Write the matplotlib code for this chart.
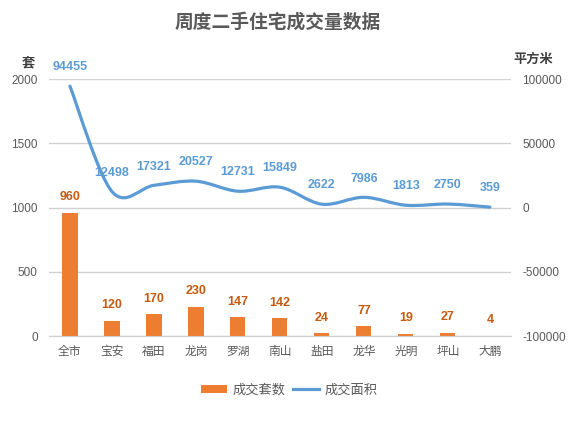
import numpy as np
import matplotlib
matplotlib.use('Agg')
import matplotlib.pyplot as plt
from matplotlib.path import Path
from matplotlib.patches import PathPatch, Patch
from matplotlib.lines import Line2D

plt.rcParams['font.family'] = ['Liberation Sans', 'Noto Sans CJK SC', 'DejaVu Sans']
plt.rcParams['axes.unicode_minus'] = False

# Data
districts = ['全市', '宝安', '福田', '龙岗', '罗湖', '南山', '盐田', '龙华', '光明', '坪山', '大鹏']
units = [960, 120, 170, 230, 147, 142, 24, 77, 19, 27, 4]
area = [94455, 12498, 17321, 20527, 12731, 15849, 2622, 7986, 1813, 2750, 359]

bar_color = '#ED7D31'
line_color = '#5B9BD5'
label_orange = '#C55A11'
grid_color = '#D0D0D0'
text_color = '#595959'

fig = plt.figure(figsize=(5.76, 4.32), dpi=100)
ax = fig.add_axes([0.085, 0.222, 0.802, 0.595])
ax2 = ax.twinx()

x = np.arange(len(districts))
ax.bar(x, units, width=0.36, color=bar_color, zorder=2)
for xi, v in zip(x, units):
    ax.annotate(str(v), (xi, v), xytext=(0, 11), textcoords='offset points',
                ha='center', va='center', fontsize=9, fontweight='bold', color=label_orange)

ax.set_ylim(0, 2000)
ax.set_yticks([0, 500, 1000, 1500, 2000])
ax.set_xlim(-0.5, len(districts) - 0.5)
ax.set_xticks(x)
ax.set_xticklabels(districts)
ax.grid(axis='y', color=grid_color, linewidth=1, zorder=0)
ax.set_axisbelow(True)
for s in ['top', 'left', 'right']:
    ax.spines[s].set_visible(False)
ax.spines['bottom'].set_color(grid_color)
ax.tick_params(axis='y', length=0, labelsize=8.5, colors=text_color, pad=8)
ax.tick_params(axis='x', length=0, labelsize=8.5, colors=text_color, pad=7)

# smoothed line (bezier through the data points, like a spreadsheet smooth line)
pts = np.column_stack([x, area]).astype(float)
verts = [tuple(pts[0])]
codes = [Path.MOVETO]
t = 1 / 6
for i in range(len(pts) - 1):
    p0 = pts[i - 1] if i > 0 else pts[i]
    p1 = pts[i]
    p2 = pts[i + 1]
    p3 = pts[i + 2] if i + 2 < len(pts) else pts[i + 1]
    c1 = p1 + (p2 - p0) * t
    c2 = p2 - (p3 - p1) * t
    verts += [tuple(c1), tuple(c2), tuple(p2)]
    codes += [Path.CURVE4, Path.CURVE4, Path.CURVE4]
ax2.add_patch(PathPatch(Path(verts, codes), facecolor='none', edgecolor=line_color,
                        linewidth=2.3, capstyle='round', zorder=3))
for xi, v in zip(x, area):
    ax2.annotate(str(v), (xi, v), xytext=(0, 13.5), textcoords='offset points',
                 ha='center', va='center', fontsize=9, fontweight='bold', color=line_color)

ax2.set_ylim(-100000, 100000)
ax2.set_yticks([-100000, -50000, 0, 50000, 100000])
for s in ['top', 'left', 'right', 'bottom']:
    ax2.spines[s].set_visible(False)
ax2.tick_params(axis='y', length=0, labelsize=8.5, colors=text_color, pad=8)

fig.text(0.482, 0.948, '周度二手住宅成交量数据', ha='center', va='center',
         fontsize=13.5, fontweight='bold', color=text_color)
fig.text(0.049, 0.854, '套', ha='center', va='center', fontsize=9.5,
         fontweight='bold', color='#404040')
fig.text(0.925, 0.863, '平方米', ha='center', va='center', fontsize=9.5,
         fontweight='bold', color='#404040')

handles = [Patch(facecolor=bar_color, edgecolor='none'),
           Line2D([0], [0], color=line_color, linewidth=2.3)]
fig.legend(handles, ['成交套数', '成交面积'], loc='center', bbox_to_anchor=(0.502, 0.097),
           ncol=2, frameon=False, fontsize=9.5, labelcolor=text_color,
           handlelength=2.0, handleheight=0.6, columnspacing=0.6, handletextpad=0.4)

fig.savefig('out.png', dpi=100)
